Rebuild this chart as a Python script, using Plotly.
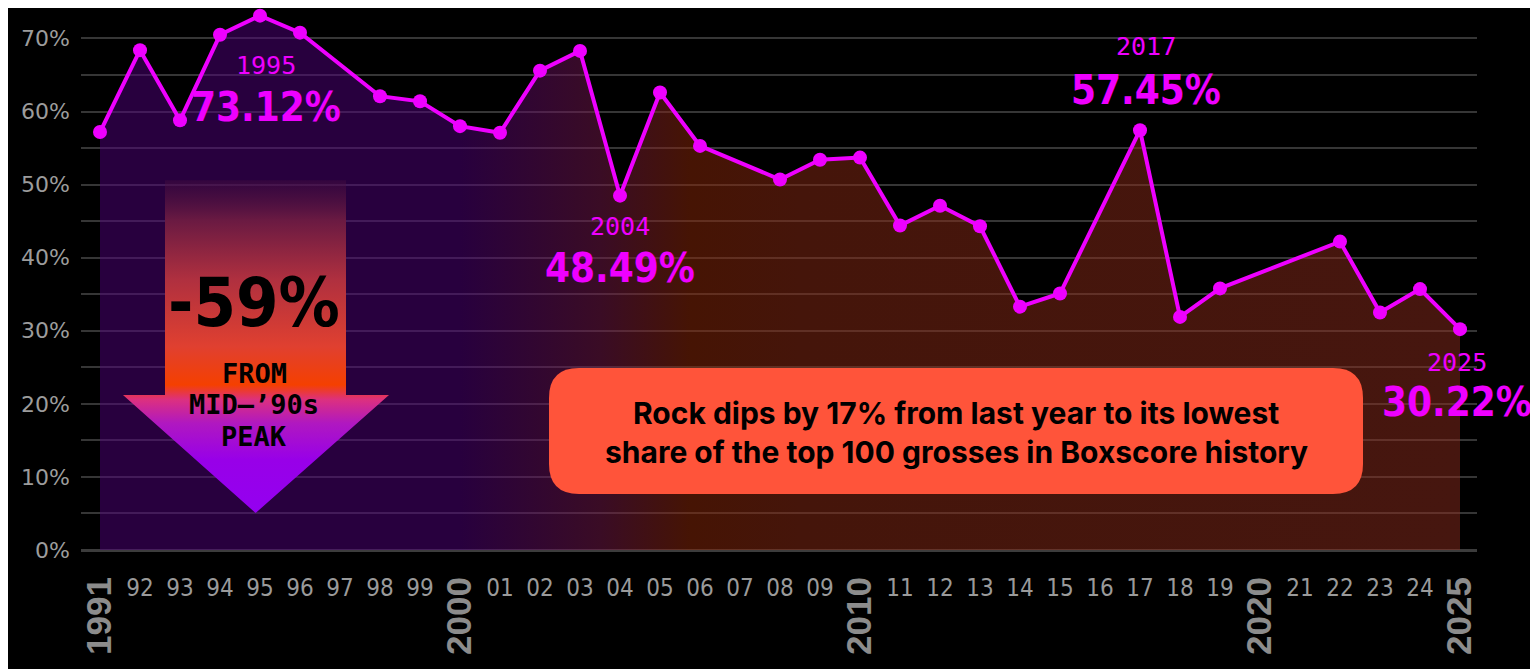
import plotly.graph_objects as go

# Rock share of the top 100 grosses (Boxscore), 1991-2025; None = no point shown
years = list(range(1991, 2026))
share = [57.2, 68.4, 58.8, 70.5, 73.12, 70.8, None, 62.1, 61.4, 58.0,
         57.1, 65.6, 68.3, 48.49, 62.6, 55.3, None, 50.7, 53.4, 53.7,
         44.4, 47.1, 44.3, 33.3, 35.1, None, 57.45, 31.9, 35.8, None,
         None, 42.2, 32.5, 35.7, 30.22]

major_years = [1991, 2000, 2010, 2020, 2025]
minor_years = [y for y in years if y not in major_years]
minor_text = [str(y)[2:] for y in minor_years]

# callouts: year, x shift, y shift of year label, y shift of value label (px)
callouts = [(1995, 6, -50, -91), (2004, 0, -31, -72), (2017, 6, 84, 40), (2025, -3, -33, -73)]

headline = ["Rock dips by 17% from last year to its lowest",
            "share of the top 100 grosses in Boxscore history"]
arrow_lines = ["FROM", "MID–’90s", "PEAK"]

MAGENTA = "#ee00ff"
COND = "DejaVu Sans Condensed, Noto Sans"


def squeeze(s):
    return f'<span style="font-stretch:extra-condensed">{s}</span>'


fig = go.Figure()

# area + line
fig.add_trace(go.Scatter(
    x=years, y=share, mode="lines+markers", connectgaps=True,
    line=dict(color=MAGENTA, width=4),
    marker=dict(color=MAGENTA, size=14),
    fill="tozeroy",
    fillgradient=dict(
        type="horizontal", start=1991, stop=2025,
        colorscale=[[0, "rgba(80,0,124,0.5)"], [0.265, "rgba(80,0,124,0.5)"],
                    [0.368, "rgba(116,24,74,0.5)"], [0.434, "rgba(140,40,8,0.5)"],
                    [0.515, "rgba(138,42,20,0.5)"], [1, "rgba(140,44,30,0.5)"]]),
    hoverinfo="skip", showlegend=False))

# big down arrow (decoration)
sx0, sx1, hx0, hx1, tipx = 1992.625, 1997.15, 1991.575, 1998.225, 1994.89
top, base, tip = 50.6, 21.2, 5.06
fig.add_trace(go.Scatter(
    x=[sx0, sx1, sx1, hx1, tipx, hx0, sx0, sx0],
    y=[top, top, base, base, tip, base, base, top],
    mode="none", fill="toself",
    fillgradient=dict(
        type="vertical",
        colorscale=[[0, "#9400f0"], [0.16, "#9800e8"], [0.27, "#b018c0"],
                    [0.34, "#dc3080"], [0.385, "#f54000"], [0.5, "#e04030"],
                    [0.7, "#b0303f"], [0.88, "#6a1a42"], [1, "rgba(70,14,64,0.4)"]]),
    hoverinfo="skip", showlegend=False))

# dummy trace for second x axis (major year labels)
fig.add_trace(go.Scatter(x=[None], y=[None], xaxis="x2", showlegend=False, hoverinfo="skip"))

annotations = []
for yr, xs, ys_year, ys_val in callouts:
    v = share[years.index(yr)]
    annotations.append(dict(x=yr, y=v, xref="x", yref="y", text=str(yr), showarrow=False,
                            xshift=xs, yshift=ys_year, yanchor="middle",
                            font=dict(family="DejaVu Sans Mono", size=25, color=MAGENTA)))
    annotations.append(dict(x=yr, y=v, xref="x", yref="y", text=squeeze(f"{v:.2f}%"),
                            showarrow=False, xshift=xs, yshift=ys_val, yanchor="middle",
                            font=dict(family=COND, size=40, color=MAGENTA, weight="bold")))

# arrow text
annotations.append(dict(x=1994.85, y=33.87, xref="x", yref="y", text=squeeze("-59%"),
                        showarrow=False, yanchor="middle",
                        font=dict(family=COND, size=68, color="black", weight="bold")))
for txt, yv in zip(arrow_lines, [24.2, 19.85, 15.5]):
    annotations.append(dict(x=1994.85, y=yv, xref="x", yref="y", text=txt, showarrow=False,
                            yanchor="middle",
                            font=dict(family="DejaVu Sans Mono", size=27, color="black",
                                      weight="bold")))

# headline box text
for txt, yv in zip(headline, [18.7, 13.4]):
    annotations.append(dict(x=2012.4, y=yv, xref="x", yref="y", text=txt,
                            showarrow=False, yanchor="middle",
                            font=dict(family="Inter", size=30, color="black", weight="bold")))

# rounded box behind headline
bx0, bx1, by0, by1 = 2002.225, 2022.575, 7.66, 24.9
rx, ry = 0.75, 4.1
box_path = (f"M {bx0+rx},{by1} L {bx1-rx},{by1} Q {bx1},{by1} {bx1},{by1-ry} "
            f"L {bx1},{by0+ry} Q {bx1},{by0} {bx1-rx},{by0} L {bx0+rx},{by0} "
            f"Q {bx0},{by0} {bx0},{by0+ry} L {bx0},{by1-ry} Q {bx0},{by1} {bx0+rx},{by1} Z")

xrange = [1990.525, 2025.425]
fig.update_layout(
    width=1538, height=669,
    margin=dict(l=73, r=69, t=0, b=127),
    paper_bgcolor="black", plot_bgcolor="black",
    showlegend=False,
    shapes=[dict(type="path", path=box_path, xref="x", yref="y",
                 fillcolor="#ff543a", line=dict(width=0), layer="above")],
    annotations=annotations,
    xaxis=dict(range=xrange, tickmode="array", tickvals=minor_years,
               ticktext=[squeeze(t) for t in minor_text],
               tickangle=0, showgrid=False, zeroline=False, showline=False, ticks="",
               ticklabelstandoff=21,
               tickfont=dict(family=COND, size=24, color="#9a9a9a")),
    xaxis2=dict(range=xrange, overlaying="x", anchor="y", side="bottom",
                tickmode="array", tickvals=major_years, ticktext=[str(y) for y in major_years],
                tickangle=-90, showgrid=False, zeroline=False, showline=False, ticks="",
                ticklabelstandoff=19,
                tickfont=dict(family="Liberation Sans", size=35, color="#8c8c8c", weight="bold")),
    yaxis=dict(range=[0, 74.17], dtick=10, tick0=0, ticksuffix="%",
               gridcolor="#363636", gridwidth=1.5,
               minor=dict(dtick=5, showgrid=True, gridcolor="#363636", gridwidth=1.5),
               zeroline=True, zerolinecolor="#3c3c3c", zerolinewidth=3,
               showline=False, ticks="", ticklabelstandoff=10,
               tickfont=dict(family="DejaVu Sans", size=22, color="#9c9c9c")),
)

fig.write_html("out.html")
